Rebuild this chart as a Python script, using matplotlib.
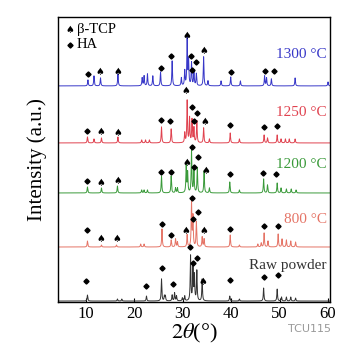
import numpy as np
import matplotlib
matplotlib.use("Agg")
import matplotlib.pyplot as plt

plt.rcParams["font.family"] = ["Liberation Serif", "DejaVu Serif"]
plt.rcParams["mathtext.fontset"] = "stix"

# sample names, colours and vertical offsets (stacked patterns)
samples = ["1300 °C", "1250 °C", "1200 °C", "800 °C", "Raw powder"]
colors = ["#3838c8", "#e0424f", "#3a9a3a", "#e57466", "#333333"]
offsets = [215, 158, 108, 54, 0]
label_y = [246, 188, 136, 81, 36]

# peak positions (2theta) and heights for each pattern
peaks = {
    "1300 °C": (
        [10.4, 11.65, 13.0, 16.6, 21.6, 22.0, 22.7, 23.8, 25.4, 27.8, 29.7, 30.4, 30.9,
         31.2, 31.8, 32.3, 32.8, 34.3, 35.2, 37.9, 39.9, 41.9, 46.9, 47.3, 48.3, 53.2, 60.0],
        [6, 10, 8, 12, 8, 10, 12, 10, 14, 25, 8, 15, 47,
         25, 23, 15, 12, 29, 5, 5, 9, 5, 10, 8, 7, 8, 4],
    ),
    "1250 °C": (
        [10.3, 11.65, 13.2, 16.6, 21.5, 22.3, 23.1, 25.6, 27.6, 30.4, 30.9, 31.4, 31.9,
         32.3, 32.9, 34.3, 35.5, 39.8, 41.7, 46.8, 47.5, 49.5, 50.3, 51.2, 52.0, 53.2],
        [6, 4, 5, 6, 3, 3, 3, 16, 14, 10, 42, 25, 23,
         15, 22, 15, 4, 10, 4, 8, 5, 8, 4, 4, 4, 4],
    ),
    "1200 °C": (
        [10.3, 13.2, 16.5, 21.5, 22.0, 22.7, 25.6, 27.6, 28.5, 28.9, 30.7, 31.0, 31.8,
         32.3, 33.0, 34.4, 35.5, 39.7, 41.7, 46.7, 47.5, 49.5, 50.3, 51.4, 52.4, 53.4],
        [6, 5, 7, 3, 3, 3, 17, 17, 5, 5, 27, 20, 43,
         23, 25, 22, 5, 11, 3, 14, 8, 10, 5, 4, 4, 3],
    ),
    "800 °C": (
        [10.3, 13.2, 16.3, 21.3, 22.0, 25.7, 27.6, 28.5, 28.9, 30.9, 31.8, 32.1, 32.8,
         34.0, 34.4, 39.8, 41.7, 45.5, 46.2, 46.8, 47.6, 49.7, 50.5, 51.4, 52.3, 53.3],
        [6, 2, 2, 3, 3, 18, 7, 8, 5, 12, 45, 30, 25,
         10, 8, 12, 2, 3, 4, 14, 6, 13, 8, 7, 6, 5],
    ),
    "Raw powder": (
        [10.3, 16.5, 17.4, 22.5, 25.6, 26.2, 26.4, 27.8, 28.3, 28.7, 29.9, 30.4, 31.6,
         32.1, 32.4, 32.9, 34.0, 39.7, 41.7, 46.7, 49.5, 50.4, 51.4, 52.3, 53.3],
        [6, 2, 2, 5, 22, 5, 5, 6, 8, 5, 3, 5, 45,
         35, 25, 30, 22, 5, 2, 13, 12, 4, 4, 4, 3],
    ),
}

# phase markers: (2theta, height) for beta-TCP and HA
tcp_marks = {
    "1300 °C": ([12.9, 16.5, 30.9, 34.3], [229, 229, 265, 250]),
    "1250 °C": ([13.0, 16.5, 30.7, 34.5], [169, 168, 210, 179]),
    "1200 °C": ([13.0, 16.5, 30.8, 34.7], [118, 120, 138, 130]),
    "800 °C": ([13.0, 16.3, 30.7, 34.3], [62, 62, 70, 70]),
    "Raw powder": ([34.2], [19]),
}
ha_marks = {
    "1300 °C": ([10.4, 25.4, 27.6, 31.6, 31.9, 32.8, 39.9, 46.9, 48.8],
                [227, 233, 245, 245, 231, 239, 229, 230, 230]),
    "1250 °C": ([10.2, 25.6, 27.4, 31.9, 33.0, 32.3, 39.8, 46.7, 49.5],
                [170, 181, 180, 194, 188, 180, 176, 174, 175]),
    "1200 °C": ([10.2, 25.6, 27.5, 31.9, 33.1, 32.3, 39.7, 46.6, 49.3],
                [120, 129, 129, 154, 144, 134, 127, 128, 127]),
    "800 °C": ([10.2, 25.7, 27.6, 31.8, 33.1, 32.2, 39.8, 46.7, 49.7],
               [71, 77, 66, 103, 89, 82, 72, 75, 75]),
    "Raw powder": ([10.1, 22.4, 25.7, 27.9, 31.4, 32.1, 33.0, 39.7, 46.7, 49.7],
                   [20, 15, 33, 17, 54, 38, 43, 21, 24, 26]),
}

x = np.linspace(4.2, 60.4, 4000)
width = 0.08


def spade(ax, px, py):
    ax.text(px, py, "\u2660", fontsize=7, ha="center", va="center",
            family="DejaVu Sans", color="black")


fig = plt.figure(figsize=(3.51, 3.44), dpi=100)
ax = fig.add_axes([0.165, 0.122, 0.775, 0.829])

for name, col, off, ly in zip(samples, colors, offsets, label_y):
    pos, hts = peaks[name]
    y = np.zeros_like(x)
    for p, h in zip(pos, hts):
        y += h * width**2 / ((x - p) ** 2 + width**2)
    ax.plot(x, y + off, color=col, lw=0.7)
    for tx, ty in zip(*tcp_marks[name]):
        spade(ax, tx, ty)
    hx, hy = ha_marks[name]
    ax.plot(hx, hy, ls="none", marker="D", ms=2.6, color="black")
    ax.text(59.7, ly, name, color=col, fontsize=11, ha="right", va="center")

# legend
spade(ax, 6.7, 271)
ax.text(8.1, 271, "β-TCP", fontsize=10.5, va="center")
ax.plot([6.7], [256], ls="none", marker="D", ms=2.6, color="black")
ax.text(8.1, 256, "HA", fontsize=10.5, va="center")

ax.set_xlim(4.2, 60.4)
ax.set_ylim(-1, 284)
ax.set_xticks([10, 20, 30, 40, 50, 60])
ax.set_yticks([])
ax.tick_params(axis="x", direction="in", length=3, labelsize=12, pad=3)
ax.set_xlabel(r"$2\theta$(°)", fontsize=16, labelpad=0)
ax.set_ylabel("Intensity (a.u.)", fontsize=15, labelpad=8)
for s in ax.spines.values():
    s.set_linewidth(1.0)

fig.text(0.82, 0.035, "TCU115", color="#999999", fontsize=8, family="DejaVu Sans")

fig.savefig("out.png", dpi=100)
